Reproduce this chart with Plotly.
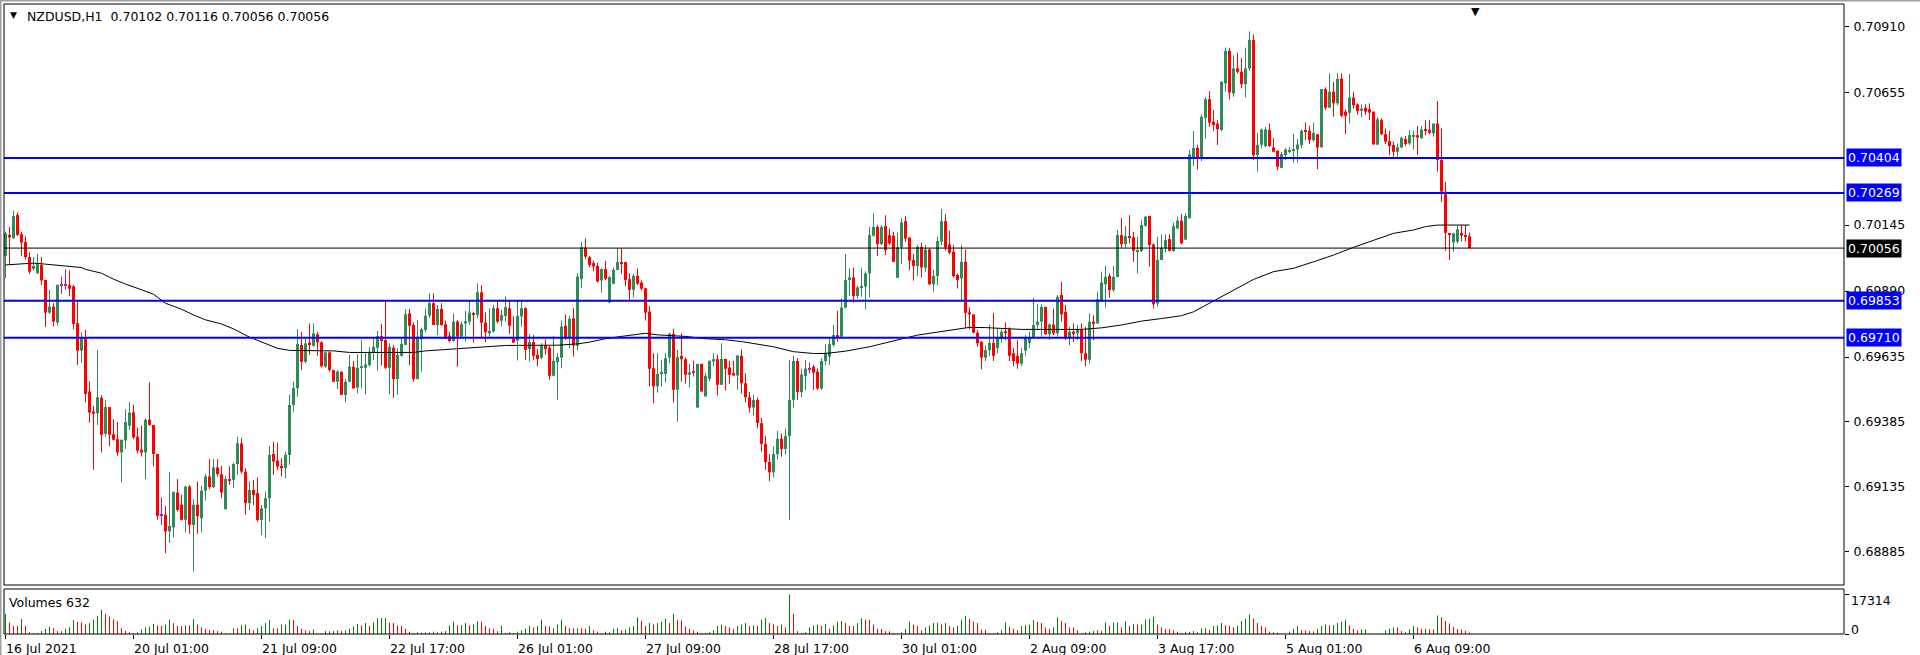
import plotly.graph_objects as go

# ---------------- data ----------------
open_ = [0.70026,0.70107,0.70094,0.70184,0.70110,0.70080,0.70021,0.69976,0.69959,0.69991,
0.69933,0.69807,0.69830,0.69769,0.69914,0.69914,0.69914,0.69908,0.69766,0.69660,
0.69712,0.69502,0.69425,0.69418,0.69478,0.69339,0.69442,0.69337,0.69318,0.69267,
0.69313,0.69370,0.69422,0.69328,0.69277,0.69267,0.69393,0.69373,0.69261,0.69026,
0.69026,0.68962,0.68977,0.69112,0.69065,0.69007,0.69135,0.68987,0.69065,0.69013,
0.69119,0.69174,0.69133,0.69209,0.69183,0.69048,0.69164,0.69161,0.69222,0.69302,
0.69193,0.69071,0.69122,0.69110,0.69006,0.69051,0.69090,0.69261,0.69235,0.69215,
0.69206,0.69257,0.69450,0.69515,0.69682,0.69617,0.69691,0.69679,0.69723,0.69692,
0.69598,0.69653,0.69585,0.69540,0.69579,0.69489,0.69540,0.69598,0.69517,0.69594,
0.69594,0.69604,0.69653,0.69671,0.69716,0.69701,0.69594,0.69671,0.69550,0.69640,
0.69682,0.69804,0.69759,0.69550,0.69704,0.69740,0.69795,0.69843,0.69759,0.69821,
0.69762,0.69718,0.69697,0.69772,0.69714,0.69765,0.69772,0.69804,0.69798,0.69885,
0.69769,0.69727,0.69734,0.69824,0.69776,0.69794,0.69824,0.69706,0.69699,0.69792,
0.69824,0.69666,0.69693,0.69644,0.69633,0.69682,0.69672,0.69563,0.69615,0.69633,
0.69756,0.69708,0.69785,0.69679,0.69936,0.70059,0.70021,0.69998,0.69987,0.69931,
0.69975,0.69846,0.69918,0.69972,0.70002,0.70002,0.69936,0.69895,0.69949,0.69923,
0.69901,0.69811,0.69592,0.69522,0.69570,0.69570,0.69633,0.69725,0.69509,0.69640,
0.69627,0.69567,0.69577,0.69440,0.69609,0.69483,0.69551,0.69618,0.69627,0.69528,
0.69628,0.69595,0.69573,0.69564,0.69640,0.69534,0.69480,0.69440,0.69470,0.69380,
0.69300,0.69230,0.69190,0.69260,0.69320,0.69280,0.69330,0.69470,0.69620,0.69500,
0.69562,0.69589,0.69598,0.69579,0.69514,0.69620,0.69637,0.69682,0.69720,0.69714,
0.69826,0.69933,0.69943,0.69871,0.69904,0.69907,0.69958,0.70104,0.70138,0.70072,
0.70141,0.70106,0.70104,0.69942,0.70059,0.70160,0.70097,0.70010,0.69987,0.70061,
0.69980,0.70051,0.69916,0.69948,0.70081,0.70160,0.70070,0.70042,0.69952,0.69939,
0.70003,0.69808,0.69800,0.69729,0.69694,0.69633,0.69662,0.69690,0.69670,0.69705,
0.69735,0.69743,0.69650,0.69640,0.69610,0.69660,0.69690,0.69710,0.69759,0.69772,
0.69829,0.69723,0.69761,0.69727,0.69875,0.69810,0.69710,0.69733,0.69727,0.69743,
0.69650,0.69625,0.69772,0.69765,0.69849,0.69916,0.69949,0.69894,0.69945,0.70106,
0.70071,0.70102,0.70098,0.70042,0.70044,0.70142,0.70180,0.70070,0.69842,0.70010,
0.70057,0.70091,0.70044,0.70132,0.70162,0.70089,0.70171,0.70405,0.70443,0.70405,
0.70559,0.70631,0.70544,0.70537,0.70512,0.70692,0.70817,0.70653,0.70750,0.70737,
0.70689,0.70750,0.70860,0.70415,0.70455,0.70450,0.70512,0.70445,0.70431,0.70366,
0.70415,0.70428,0.70432,0.70437,0.70454,0.70509,0.70509,0.70473,0.70496,0.70445,
0.70670,0.70598,0.70660,0.70615,0.70711,0.70583,0.70579,0.70637,0.70611,0.70586,
0.70598,0.70592,0.70583,0.70456,0.70550,0.70496,0.70469,0.70454,0.70428,0.70445,
0.70477,0.70460,0.70486,0.70492,0.70480,0.70516,0.70512,0.70499,0.70537,0.70396,
0.70274,0.70113,0.70078,0.70081,0.70115,0.70103,0.70102]

high = [0.70120,0.70137,0.70200,0.70193,0.70119,0.70101,0.70040,0.70021,0.70034,0.70021,
0.69933,0.69895,0.69843,0.69914,0.69946,0.69974,0.69969,0.69914,0.69850,0.69731,
0.69740,0.69541,0.69447,0.69663,0.69488,0.69470,0.69442,0.69395,0.69384,0.69316,
0.69434,0.69461,0.69451,0.69363,0.69370,0.69399,0.69537,0.69373,0.69261,0.69094,
0.69061,0.69191,0.69115,0.69164,0.69103,0.69138,0.69142,0.69086,0.69155,0.69138,
0.69184,0.69241,0.69241,0.69241,0.69215,0.69177,0.69213,0.69228,0.69328,0.69322,
0.69206,0.69155,0.69161,0.69170,0.69064,0.69116,0.69292,0.69309,0.69305,0.69245,
0.69270,0.69489,0.69540,0.69743,0.69733,0.69707,0.69765,0.69765,0.69733,0.69697,
0.69656,0.69656,0.69585,0.69585,0.69579,0.69550,0.69643,0.69620,0.69646,0.69701,
0.69650,0.69675,0.69707,0.69736,0.69763,0.69852,0.69688,0.69682,0.69669,0.69705,
0.69821,0.69821,0.69769,0.69778,0.69749,0.69823,0.69881,0.69881,0.69836,0.69843,
0.69776,0.69733,0.69804,0.69778,0.69772,0.69813,0.69855,0.69810,0.69920,0.69913,
0.69808,0.69823,0.69837,0.69856,0.69818,0.69869,0.69854,0.69792,0.69854,0.69854,
0.69828,0.69725,0.69720,0.69667,0.69689,0.69704,0.69679,0.69717,0.69650,0.69776,
0.69798,0.69794,0.69824,0.69959,0.70079,0.70094,0.70026,0.70008,0.70000,0.69978,
0.70007,0.69949,0.69982,0.70056,0.70056,0.70002,0.69959,0.69957,0.69978,0.69931,
0.69901,0.69833,0.69650,0.69650,0.69624,0.69650,0.69730,0.69744,0.69663,0.69727,
0.69633,0.69609,0.69621,0.69609,0.69609,0.69573,0.69622,0.69650,0.69644,0.69689,
0.69628,0.69621,0.69621,0.69644,0.69665,0.69572,0.69500,0.69490,0.69480,0.69400,
0.69330,0.69260,0.69290,0.69350,0.69340,0.69360,0.69624,0.69640,0.69630,0.69590,
0.69624,0.69615,0.69604,0.69591,0.69630,0.69685,0.69707,0.69759,0.69814,0.69862,
0.70033,0.69978,0.69981,0.69911,0.69978,0.69967,0.70138,0.70190,0.70145,0.70145,
0.70183,0.70132,0.70119,0.70115,0.70171,0.70180,0.70097,0.70033,0.70068,0.70077,
0.70068,0.70055,0.69971,0.70100,0.70207,0.70187,0.70123,0.70068,0.69958,0.70068,
0.70051,0.69827,0.69800,0.69739,0.69697,0.69680,0.69761,0.69806,0.69746,0.69743,
0.69769,0.69750,0.69670,0.69700,0.69670,0.69720,0.69733,0.69864,0.69839,0.69839,
0.69829,0.69765,0.69823,0.69875,0.69926,0.69836,0.69752,0.69765,0.69759,0.69765,
0.69752,0.69804,0.69797,0.69887,0.69965,0.69988,0.69958,0.69988,0.70126,0.70173,
0.70141,0.70183,0.70119,0.70100,0.70164,0.70180,0.70180,0.70074,0.70100,0.70109,
0.70109,0.70109,0.70154,0.70177,0.70187,0.70190,0.70434,0.70508,0.70454,0.70572,
0.70640,0.70662,0.70589,0.70550,0.70701,0.70831,0.70829,0.70800,0.70810,0.70790,
0.70830,0.70893,0.70880,0.70501,0.70518,0.70524,0.70537,0.70480,0.70435,0.70428,
0.70441,0.70445,0.70496,0.70477,0.70514,0.70541,0.70528,0.70541,0.70496,0.70670,
0.70677,0.70731,0.70698,0.70731,0.70731,0.70592,0.70728,0.70660,0.70615,0.70611,
0.70611,0.70615,0.70583,0.70561,0.70557,0.70518,0.70509,0.70467,0.70460,0.70486,
0.70489,0.70512,0.70509,0.70528,0.70527,0.70550,0.70550,0.70537,0.70624,0.70518,
0.70312,0.70115,0.70115,0.70142,0.70145,0.70145,0.70116]

low = [0.69940,0.69991,0.70092,0.70103,0.70026,0.70011,0.69956,0.69969,0.69956,0.69914,
0.69751,0.69802,0.69753,0.69756,0.69879,0.69895,0.69872,0.69743,0.69605,0.69614,
0.69460,0.69382,0.69200,0.69373,0.69267,0.69328,0.69290,0.69313,0.69254,0.69151,
0.69280,0.69354,0.69318,0.69264,0.69251,0.69164,0.69370,0.69213,0.69007,0.68987,
0.68878,0.68917,0.68938,0.69039,0.69004,0.68958,0.68953,0.68807,0.68953,0.68958,
0.69081,0.69125,0.69129,0.69174,0.69090,0.69045,0.69142,0.69129,0.69180,0.69186,
0.69026,0.69045,0.69064,0.69000,0.68948,0.68936,0.69000,0.69180,0.69199,0.69174,
0.69167,0.69219,0.69424,0.69482,0.69585,0.69611,0.69643,0.69675,0.69640,0.69595,
0.69594,0.69579,0.69538,0.69512,0.69489,0.69460,0.69538,0.69514,0.69495,0.69514,
0.69491,0.69598,0.69624,0.69583,0.69604,0.69589,0.69492,0.69478,0.69489,0.69637,
0.69682,0.69604,0.69540,0.69550,0.69579,0.69731,0.69787,0.69759,0.69720,0.69756,
0.69705,0.69692,0.69695,0.69598,0.69711,0.69695,0.69759,0.69692,0.69785,0.69711,
0.69692,0.69714,0.69730,0.69766,0.69756,0.69772,0.69725,0.69689,0.69622,0.69753,
0.69624,0.69618,0.69624,0.69599,0.69627,0.69644,0.69547,0.69560,0.69470,0.69592,
0.69702,0.69670,0.69637,0.69660,0.69901,0.70013,0.69982,0.69966,0.69923,0.69884,
0.69933,0.69843,0.69918,0.69972,0.69957,0.69908,0.69854,0.69866,0.69914,0.69892,
0.69776,0.69522,0.69457,0.69498,0.69522,0.69537,0.69612,0.69460,0.69386,0.69541,
0.69532,0.69518,0.69560,0.69440,0.69502,0.69483,0.69541,0.69599,0.69487,0.69528,
0.69506,0.69532,0.69563,0.69509,0.69495,0.69460,0.69420,0.69410,0.69360,0.69270,
0.69200,0.69156,0.69170,0.69240,0.69250,0.69260,0.69005,0.69440,0.69470,0.69480,
0.69508,0.69572,0.69508,0.69508,0.69508,0.69604,0.69604,0.69675,0.69694,0.69714,
0.69823,0.69871,0.69845,0.69862,0.69868,0.69819,0.69866,0.70100,0.70026,0.70068,
0.70029,0.70068,0.70001,0.69939,0.69994,0.70080,0.69971,0.69930,0.69948,0.69943,
0.69965,0.69913,0.69887,0.69913,0.70068,0.70046,0.70033,0.69943,0.69900,0.69853,
0.69746,0.69742,0.69727,0.69675,0.69588,0.69620,0.69640,0.69620,0.69650,0.69690,
0.69700,0.69620,0.69600,0.69590,0.69600,0.69640,0.69670,0.69710,0.69739,0.69714,
0.69723,0.69701,0.69720,0.69714,0.69772,0.69701,0.69681,0.69694,0.69701,0.69620,
0.69600,0.69610,0.69700,0.69765,0.69849,0.69826,0.69864,0.69887,0.69943,0.70057,
0.70059,0.70074,0.70003,0.69958,0.70042,0.70138,0.69984,0.69823,0.69830,0.70010,
0.70039,0.70042,0.70044,0.70128,0.70071,0.70087,0.70171,0.70373,0.70360,0.70392,
0.70479,0.70524,0.70508,0.70454,0.70508,0.70660,0.70630,0.70640,0.70730,0.70673,
0.70638,0.70740,0.70396,0.70351,0.70441,0.70444,0.70447,0.70428,0.70357,0.70364,
0.70396,0.70422,0.70386,0.70386,0.70441,0.70473,0.70458,0.70467,0.70361,0.70445,
0.70589,0.70598,0.70563,0.70608,0.70561,0.70496,0.70537,0.70595,0.70570,0.70561,
0.70570,0.70550,0.70456,0.70454,0.70492,0.70458,0.70415,0.70409,0.70409,0.70441,
0.70450,0.70454,0.70437,0.70415,0.70480,0.70492,0.70496,0.70486,0.70351,0.70235,
0.70046,0.70010,0.70042,0.70074,0.70081,0.70081,0.70056]

close = [0.70113,0.70097,0.70180,0.70107,0.70077,0.70021,0.69965,0.69987,0.69994,0.69931,
0.69807,0.69830,0.69772,0.69914,0.69914,0.69914,0.69899,0.69763,0.69660,0.69712,
0.69493,0.69421,0.69416,0.69480,0.69335,0.69442,0.69335,0.69316,0.69267,0.69316,
0.69384,0.69421,0.69325,0.69274,0.69267,0.69393,0.69373,0.69261,0.69022,0.69026,
0.68962,0.68983,0.69115,0.69045,0.69007,0.69135,0.68987,0.69065,0.69020,0.69119,
0.69174,0.69133,0.69209,0.69183,0.69112,0.69164,0.69159,0.69222,0.69302,0.69193,
0.69071,0.69122,0.69103,0.69006,0.69051,0.69090,0.69257,0.69232,0.69212,0.69206,
0.69257,0.69450,0.69515,0.69686,0.69617,0.69688,0.69682,0.69727,0.69692,0.69600,
0.69653,0.69585,0.69540,0.69579,0.69489,0.69540,0.69598,0.69514,0.69594,0.69598,
0.69607,0.69656,0.69675,0.69716,0.69697,0.69594,0.69675,0.69550,0.69643,0.69686,
0.69801,0.69756,0.69550,0.69714,0.69743,0.69795,0.69843,0.69759,0.69821,0.69759,
0.69707,0.69697,0.69772,0.69714,0.69762,0.69774,0.69807,0.69800,0.69885,0.69768,
0.69731,0.69736,0.69824,0.69772,0.69798,0.69828,0.69756,0.69691,0.69794,0.69824,
0.69663,0.69693,0.69640,0.69628,0.69682,0.69666,0.69563,0.69621,0.69635,0.69753,
0.69708,0.69783,0.69679,0.69946,0.70059,0.70023,0.69991,0.69985,0.69927,0.69975,
0.69937,0.69944,0.69972,0.70002,0.69998,0.69933,0.69895,0.69949,0.69918,0.69899,
0.69807,0.69590,0.69522,0.69570,0.69576,0.69631,0.69725,0.69509,0.69635,0.69627,
0.69567,0.69576,0.69577,0.69609,0.69502,0.69563,0.69621,0.69627,0.69528,0.69628,
0.69590,0.69567,0.69564,0.69641,0.69534,0.69480,0.69440,0.69470,0.69380,0.69300,
0.69230,0.69190,0.69260,0.69320,0.69280,0.69330,0.69470,0.69620,0.69500,0.69568,
0.69591,0.69589,0.69575,0.69514,0.69620,0.69652,0.69685,0.69720,0.69710,0.69826,
0.69933,0.69943,0.69871,0.69904,0.69909,0.69958,0.70106,0.70138,0.70072,0.70138,
0.70048,0.70074,0.70003,0.70059,0.70155,0.70093,0.70007,0.69987,0.70061,0.69981,
0.70051,0.69916,0.69948,0.70083,0.70160,0.70059,0.70038,0.69948,0.69933,0.70003,
0.69806,0.69800,0.69729,0.69688,0.69633,0.69662,0.69690,0.69640,0.69710,0.69733,
0.69727,0.69640,0.69620,0.69610,0.69650,0.69710,0.69711,0.69759,0.69772,0.69829,
0.69723,0.69761,0.69727,0.69868,0.69800,0.69710,0.69733,0.69727,0.69743,0.69650,
0.69625,0.69772,0.69765,0.69859,0.69923,0.69945,0.69894,0.69945,0.70106,0.70071,
0.70102,0.70096,0.70046,0.70048,0.70145,0.70177,0.70068,0.69839,0.70010,0.70057,
0.70087,0.70046,0.70141,0.70162,0.70074,0.70180,0.70418,0.70443,0.70405,0.70563,
0.70631,0.70541,0.70531,0.70515,0.70698,0.70817,0.70657,0.70750,0.70737,0.70689,
0.70750,0.70860,0.70415,0.70455,0.70514,0.70514,0.70450,0.70428,0.70370,0.70419,
0.70437,0.70432,0.70435,0.70456,0.70509,0.70505,0.70473,0.70501,0.70445,0.70670,
0.70598,0.70660,0.70615,0.70709,0.70567,0.70567,0.70637,0.70608,0.70585,0.70595,
0.70583,0.70579,0.70456,0.70553,0.70496,0.70467,0.70450,0.70428,0.70445,0.70482,
0.70458,0.70492,0.70492,0.70483,0.70514,0.70509,0.70501,0.70537,0.70396,0.70274,
0.70115,0.70108,0.70113,0.70129,0.70104,0.70100,0.70056]

volume = [8900,5100,3550,3500,6600,3550,760,380,400,1270,
2290,3175,2670,1270,1200,2290,2920,6100,5460,5080,
4190,4830,6350,8000,10800,8890,7620,6480,5715,2540,
1400,760,380,760,2030,2920,3300,4450,3810,3560,
4190,6350,4830,3560,3500,3810,3800,6600,4190,2920,
2290,1780,1650,1270,1020,380,150,2540,2500,3810,
4190,2290,1650,2540,3560,4830,6100,2540,2500,4190,
4200,6350,6100,3560,2290,1650,1270,2030,100,380,
1270,1200,1270,1650,1270,1650,2290,3300,4450,3810,
4830,3560,5080,7000,7050,7100,5080,4830,3810,3560,
2290,1020,380,760,500,760,700,1020,760,1020,
1270,3810,5460,3810,3900,4830,3810,4190,5700,5500,
3560,2540,2290,1270,3560,380,760,380,1020,1650,
2290,3560,2920,3560,6350,3560,3300,2540,4190,6350,
3560,2540,2500,2540,2500,2290,3560,1650,1020,380,
1020,760,2290,2540,1650,2030,2920,3560,7370,5840,
3560,4830,4190,4830,5460,6730,4830,8890,6100,6000,
3180,2290,1650,1020,380,350,760,1650,3560,4190,
3560,2920,2290,3560,4190,4830,3560,3810,3560,6350,
7000,4830,4190,3560,4190,2920,17314,8890,1270,380,
760,2920,3810,4190,3560,4450,2290,3810,5460,5720,
4830,3560,3500,4830,7000,6350,6300,4190,2290,2200,
1270,1200,380,250,760,2290,5460,4190,3560,1650,
2920,3810,4830,4900,4190,4830,3560,2920,3560,6350,
8000,6730,5460,4830,1900,1850,380,250,760,1650,
5080,3180,2290,1650,3560,3810,4190,6100,5460,4830,
2920,2290,2920,7370,5720,4830,2920,2900,1650,250,
760,1020,1270,1650,1270,5080,3560,5080,5100,2920,
5720,3560,4450,4190,4200,6350,6730,7620,4190,2920,
2290,2200,1650,1020,380,1020,1000,1270,760,2540,
2600,1900,3560,3810,4830,3810,3560,2920,3560,5720,
6730,8640,6730,4830,3560,2920,1020,760,500,250,
150,1020,2290,3560,1650,1600,1270,1200,2290,3560,
4190,3810,3900,4830,5460,6350,3810,2290,1650,2030,
2100,250,100,120,140,1650,2290,2920,2900,1270,
760,2030,3560,2920,2290,2300,2030,2000,8200,7400,
5800,4700,3100,2200,2000,1400,632]

ma_bar = [0,4,7,10,14,17,19,20,24,27,30,34,37,40,44,47,50,54,57,61,65,68,71,74,82,86,92,102,105,107,
          112,116,118,122,125,138,143,146,150,154,158,160,163,170,175,180,184,187,192,197,202,205,210,
          216,220,224,228,232,237,241,245,254,269,274,279,284,289,294,297,302,306,312,317,322,327,332,
          337,342,347,352,355,358,363,366]
ma_val = [0.69991,0.69995,0.69998,0.69994,0.69989,0.69985,0.69981,0.69974,0.69959,0.69936,0.69917,
          0.69895,0.69878,0.69843,0.69820,0.69798,0.69779,0.69763,0.69744,0.69712,0.69688,0.69669,
          0.69661,0.69660,0.69659,0.69653,0.69653,0.69653,0.69659,0.69661,0.69665,0.69669,0.69673,
          0.69675,0.69680,0.69681,0.69686,0.69693,0.69706,0.69715,0.69724,0.69727,0.69721,0.69715,
          0.69706,0.69702,0.69695,0.69688,0.69675,0.69656,0.69649,0.69649,0.69658,0.69675,0.69691,
          0.69705,0.69720,0.69729,0.69739,0.69750,0.69749,0.69742,0.69742,0.69748,0.69759,0.69774,
          0.69784,0.69795,0.69810,0.69851,0.69887,0.69935,0.69965,0.69978,0.70003,0.70029,0.70059,
          0.70087,0.70113,0.70126,0.70139,0.70145,0.70145,0.70145]

tick_bars = [0, 32, 64, 96, 128, 160, 192, 224, 256, 288, 320, 352]
tick_labels = ["16 Jul 2021", "20 Jul 01:00", "21 Jul 09:00", "22 Jul 17:00", "26 Jul 01:00",
               "27 Jul 09:00", "28 Jul 17:00", "30 Jul 01:00", "2 Aug 09:00", "3 Aug 17:00",
               "5 Aug 01:00", "6 Aug 09:00"]
price_ticks = [0.70910, 0.70655, 0.70145, 0.69890, 0.69635, 0.69385, 0.69135, 0.68885]
blue_levels = [0.70404, 0.70269, 0.69853, 0.69710]
bid_price = 0.70056
vol_current = volume[-1]
title_text = "NZDUSD,H1  0.70102 0.70116 0.70056 0.70056"

# ---------------- geometry / style ----------------
W, H = 1920, 655
L, R, T, B = 4, 1844, 4, 634
PW, PH = R - L, B - T
MAIN_BOT = 585
VOL_TOP = 589
FONT = "DejaVu Sans"
FS = 12.5
GREEN, RED, DOJI = "#2E8B57", "#FF0000", "#C71585"
VGREEN, VRED = "#008000", "#FF0000"

def px_x(p):
    return (p - L) / PW

def px_y(p):
    return (B - p) / PH

n = len(open_)
x0 = -(5.5 - L) / 4.0
x1 = x0 + PW / 4.0
price_top = 0.709986
price_bot = 0.68755
px_per_price = (MAIN_BOT - T) / (price_top - price_bot)
min_body = 1.0 / px_per_price
vol_max_label = max(volume)

fig = go.Figure()

groups = [
    (GREEN, [i for i in range(n) if close[i] > open_[i]]),
    (RED, [i for i in range(n) if close[i] < open_[i]]),
    (DOJI, [i for i in range(n) if close[i] == open_[i]]),
]
for color, ids in groups:
    wx, wy = [], []
    for i in ids:
        wx += [i, i, None]
        wy += [low[i], high[i], None]
    fig.add_trace(go.Scatter(x=wx, y=wy, mode="lines", line=dict(color=color, width=1),
                             hoverinfo="skip", showlegend=False, xaxis="x", yaxis="y"))
    bases, heights = [], []
    for i in ids:
        lo, hi = min(open_[i], close[i]), max(open_[i], close[i])
        h = hi - lo
        if h < min_body:
            bases.append(lo - (min_body - h) / 2)
            heights.append(min_body)
        else:
            bases.append(lo)
            heights.append(h)
    fig.add_trace(go.Bar(x=ids, y=heights, base=bases, width=0.75,
                         marker=dict(color=color, line=dict(width=0)),
                         hoverinfo="skip", showlegend=False, xaxis="x", yaxis="y"))

# moving average
fig.add_trace(go.Scatter(x=ma_bar, y=ma_val, mode="lines", line=dict(color="black", width=1),
                         hoverinfo="skip", showlegend=False, xaxis="x", yaxis="y"))

# volumes (green when higher than previous bar, red otherwise)
up_v = [i for i in range(len(volume)) if i == 0 or volume[i] > volume[i - 1]]
dn_v = [i for i in range(len(volume)) if i > 0 and volume[i] <= volume[i - 1]]
for color, ids in [(VGREEN, up_v), (VRED, dn_v)]:
    vx, vy = [], []
    for i in ids:
        vx += [i, i, None]
        vy += [0, volume[i], None]
    fig.add_trace(go.Scatter(x=vx, y=vy, mode="lines", line=dict(color=color, width=1),
                             hoverinfo="skip", showlegend=False, xaxis="x", yaxis="y2"))

shapes = []
for lv in blue_levels:
    shapes.append(dict(type="line", xref="paper", yref="y", x0=0, x1=1, y0=lv, y1=lv,
                       line=dict(color="#0000FF", width=2), layer="above"))
shapes.append(dict(type="line", xref="paper", yref="y", x0=0, x1=1, y0=bid_price, y1=bid_price,
                   line=dict(color="black", width=1), layer="above"))
main_bot_frac = px_y(MAIN_BOT)
vol_top_frac = px_y(VOL_TOP)
shapes.append(dict(type="rect", xref="paper", yref="paper", x0=0, x1=1, y0=main_bot_frac, y1=1,
                   line=dict(color="black", width=1), layer="above"))
shapes.append(dict(type="rect", xref="paper", yref="paper", x0=0, x1=1, y0=0, y1=vol_top_frac,
                   line=dict(color="black", width=1), layer="above"))
shapes.append(dict(type="line", xref="paper", yref="paper", x0=px_x(0.5), x1=px_x(0.5), y0=px_y(655), y1=px_y(0),
                   line=dict(color="#A0A0A0", width=2)))
shapes.append(dict(type="line", xref="paper", yref="paper", x0=px_x(0), x1=px_x(1920), y0=px_y(0.5), y1=px_y(0.5),
                   line=dict(color="#A0A0A0", width=2)))

annotations = []
for lv in blue_levels:
    annotations.append(dict(xref="paper", yref="y", x=px_x(1846), y=lv, xanchor="left", yanchor="middle",
                            text="%.5f" % lv, showarrow=False, bgcolor="#0000FF", borderpad=1,
                            font=dict(family=FONT, size=FS, color="white")))
annotations.append(dict(xref="paper", yref="y", x=px_x(1846), y=bid_price, xanchor="left", yanchor="middle",
                        text="%.5f" % bid_price, showarrow=False, bgcolor="black", borderpad=1,
                        font=dict(family=FONT, size=FS, color="white")))
annotations.append(dict(xref="paper", yref="paper", x=px_x(8), y=px_y(15), xanchor="left", yanchor="middle",
                        text="▼", showarrow=False, font=dict(family=FONT, size=9, color="black")))
annotations.append(dict(xref="paper", yref="paper", x=px_x(25), y=px_y(16), xanchor="left", yanchor="middle",
                        text=title_text.replace(" ", "&nbsp;"), showarrow=False,
                        font=dict(family=FONT, size=FS, color="black")))
annotations.append(dict(xref="paper", yref="paper", x=px_x(7), y=px_y(602), xanchor="left", yanchor="middle",
                        text="Volumes %d" % vol_current, showarrow=False,
                        font=dict(family=FONT, size=FS, color="black")))
# volume scale labels (MT4 draws them just below their ticks)
annotations.append(dict(xref="paper", yref="paper", x=px_x(1849), y=px_y(600), xanchor="left", yanchor="middle",
                        text=str(vol_max_label), showarrow=False, font=dict(family=FONT, size=FS, color="black")))
annotations.append(dict(xref="paper", yref="paper", x=px_x(1849), y=px_y(629), xanchor="left", yanchor="middle",
                        text="0", showarrow=False, font=dict(family=FONT, size=FS, color="black")))
annotations.append(dict(xref="x", yref="paper", x=n + 0.6, y=px_y(3), xanchor="center", yanchor="top",
                        text="▼", showarrow=False, font=dict(family=FONT, size=11, color="black")))
for b, t in zip(tick_bars, tick_labels):
    annotations.append(dict(xref="x", yref="paper", x=b, y=px_y(648.5), xanchor="left", yanchor="middle",
                            xshift=-2, text=t, showarrow=False, font=dict(family=FONT, size=FS, color="black")))

fig.update_layout(
    width=W, height=H,
    margin=dict(l=L, r=W - R, t=T, b=H - B, pad=0),
    paper_bgcolor="white", plot_bgcolor="white",
    barmode="overlay", showlegend=False, hovermode=False,
    xaxis=dict(range=[x0, x1], anchor="y2", showgrid=False, zeroline=False, showline=False,
               tickmode="array", tickvals=tick_bars, ticktext=[""] * len(tick_bars),
               ticks="outside", ticklen=4, tickcolor="black", tickwidth=1),
    yaxis=dict(domain=[main_bot_frac, 1], range=[price_bot, price_top], side="right", anchor="x",
               showgrid=False, zeroline=False, showline=False,
               tickmode="array", tickvals=price_ticks, ticktext=["%.5f" % v for v in price_ticks],
               ticks="outside", ticklen=4, tickcolor="black", ticklabelstandoff=2,
               tickfont=dict(family=FONT, size=FS, color="black")),
    yaxis2=dict(domain=[0, vol_top_frac], range=[0, vol_max_label * 1.15], side="right", anchor="x",
                showgrid=False, zeroline=False, showline=False,
                tickmode="array", tickvals=[0, vol_max_label], ticktext=["", ""],
                ticks="outside", ticklen=4, tickcolor="black"),
    shapes=shapes, annotations=annotations,
)

fig.write_html("out.html", config={"displayModeBar": False},
               post_script="document.body.style.margin='0px';document.body.style.overflow='hidden';")
